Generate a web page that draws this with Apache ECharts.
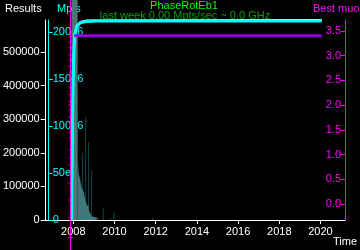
<!DOCTYPE html>
<html><head><meta charset="utf-8">
<script src="https://cdn.jsdelivr.net/npm/echarts@6/dist/echarts.min.js"></script>
<style>html,body{margin:0;padding:0;background:#000;}#c{width:360px;height:250px;}</style>
</head><body><div id="c"></div>
<script>
// ---- data ----
const xTickYears = [2008, 2010, 2012, 2014, 2016, 2018, 2020];
const resultsTicks = [0, 100000, 200000, 300000, 400000, 500000];
const mptsTicks = [0, 50e6, 100e6, 150e6, 200e6];
const rightTicks = [0, 0.5, 1.0, 1.5, 2.0, 2.5, 3.0, 3.5];

// tall first histogram bin (exceeds axis)
const bandX = [2007.92, 2008.21];
const bandV = [700000, 700000];

// results histogram (light fill), step bins
const histX = [2008.21, 2008.26, 2008.31, 2008.36, 2008.41, 2008.46, 2008.50, 2008.55, 2008.60, 2008.65, 2008.70, 2008.75, 2008.80, 2008.84, 2008.89, 2008.94, 2008.99, 2009.04, 2009.09, 2009.14, 2009.18, 2009.23];
const histV = [185000, 140000, 125000, 110000, 95000, 100000, 85000, 70000, 55000, 45000, 40000, 30000, 25000, 18000, 12000, 9000, 9000, 8000, 6000, 5000, 4000, 0];

// dark spikes
const spikeX = [2008.31, 2008.44, 2008.60, 2008.74, 2008.89, 2009.45, 2009.82, 2009.97, 2011.85];
const spikeV = [128000, 199000, 306000, 232000, 149000, 36600, 5000, 24700, 7000];

// cumulative results (white, left axis)
const whiteX = [2007.92, 2007.97, 2008.01, 2008.06, 2008.16, 2008.35, 2008.64, 2020.06];
const whiteV = [0, 297600, 476000, 550600, 577000, 589000, 593700, 595000];

// Mpts (cyan)
const cyanX = [2007.92, 2007.94, 2007.99, 2008.04, 2008.09, 2008.16, 2008.31, 2008.55, 2009.08, 2020.06];
const cyanV = [0, 74.5e6, 149e6, 186e6, 199e6, 205e6, 209.6e6, 211e6, 211.7e6, 211.7e6];

// best (purple, right axis)
const purpleX = [2008.05, 2020.06];
const purpleV = [3.40, 3.40];

// magenta vertical trace
const magLineX = [2007.87, 2007.87];
const magLineV = [-1.0, 4.3];

// best muon points (magenta, right axis)
const muonX = [2007.89, 2007.88, 2007.89, 2007.88, 2007.89, 2007.88, 2007.89, 2007.88, 2007.88, 2007.89, 2007.88, 2007.88, 2007.89, 2007.88, 2007.88, 2007.89, 2007.88, 2007.88, 2007.88, 2007.89, 2007.88, 2007.88, 2007.88, 2007.88, 2007.88, 2007.87];
const muonV = [3.38, 3.28, 3.16, 3.01, 2.91, 2.79, 2.67, 2.51, 2.35, 2.21, 2.07, 2.00, 1.90, 1.76, 1.64, 1.50, 1.44, 1.34, 1.09, 0.93, 0.79, 0.59, 0.42, 0.08, -0.28, -0.68];

const pairs = (xs, vs) => xs.map((x, i) => [x, vs[i]]);
const FONT = 'Liberation Sans';

const chart = echarts.init(document.getElementById('c'), null, {renderer: 'canvas'});
chart.setOption({
  backgroundColor: '#000',
  animation: false,
  grid: {left: 45, right: 15, top: 20, bottom: 30},
  xAxis: {
    type: 'value', min: 2006.66, max: 2021.19,
    axisLine: {show: true, lineStyle: {color: '#fff', width: 1}},
    axisTick: {show: true, customValues: xTickYears, length: 4, lineStyle: {color: '#fff'}},
    axisLabel: {customValues: xTickYears, color: '#fff', fontFamily: FONT, fontSize: 11, margin: 6, formatter: v => String(v)},
    splitLine: {show: false}
  },
  yAxis: [
    {
      type: 'value', position: 'left', min: 0, max: 595000,
      axisLine: {show: true, lineStyle: {color: '#fff'}},
      axisTick: {show: true, length: 5, customValues: resultsTicks, lineStyle: {color: '#fff'}},
      axisLabel: {customValues: resultsTicks, color: '#fff', fontFamily: FONT, fontSize: 11, margin: 6, formatter: v => String(v)},
      splitLine: {show: false}
    },
    {
      type: 'value', position: 'left', offset: -3, min: 0, max: 212.8e6,
      axisLine: {show: true, lineStyle: {color: '#00ffff'}},
      axisTick: {show: true, inside: true, length: 4, customValues: mptsTicks, lineStyle: {color: '#00ffff'}},
      axisLabel: {inside: true, customValues: mptsTicks, color: '#00ffff', fontFamily: FONT, fontSize: 11, margin: 4,
        formatter: v => v === 0 ? '0' : (v / 1e6) + 'e6'},
      splitLine: {show: false}
    },
    {
      type: 'value', position: 'right', min: -0.324, max: 3.72,
      axisLine: {show: true, lineStyle: {color: '#ff00ff'}},
      axisTick: {show: true, inside: true, length: 4, customValues: rightTicks, lineStyle: {color: '#ff00ff'}},
      axisLabel: {inside: true, customValues: rightTicks, color: '#ff00ff', fontFamily: FONT, fontSize: 11, margin: 4,
        formatter: v => Number(v).toFixed(1)},
      splitLine: {show: false}
    }
  ],
  series: [
    {type: 'line', yAxisIndex: 0, data: pairs(bandX, bandV), clip: false, symbol: 'none',
      lineStyle: {width: 0}, areaStyle: {color: '#4c7676', opacity: 1}},
    {type: 'line', yAxisIndex: 0, data: pairs(histX, histV), step: 'end', symbol: 'none',
      lineStyle: {width: 0}, areaStyle: {color: '#3e7878', opacity: 1}},
    {type: 'bar', yAxisIndex: 0, data: pairs(spikeX, spikeV), barWidth: 1, itemStyle: {color: '#0f4646'}},
    {type: 'line', yAxisIndex: 0, data: pairs(whiteX, whiteV), symbol: 'none', lineStyle: {color: '#fff', width: 2}},
    {type: 'line', yAxisIndex: 1, data: pairs(cyanX, cyanV), symbol: 'none', lineStyle: {color: '#00ffff', width: 3}},
    {type: 'line', yAxisIndex: 2, data: pairs(purpleX, purpleV), symbol: 'none', lineStyle: {color: '#9000e0', width: 3}},
    {type: 'line', yAxisIndex: 2, data: pairs(magLineX, magLineV), symbol: 'none', clip: false, lineStyle: {color: '#ff00ff', width: 1}},
    {type: 'scatter', yAxisIndex: 2, data: pairs(muonX, muonV), clip: false,
      symbol: 'path://M2,0H3V2H5V3H3V5H2V3H0V2H2Z', symbolSize: 5, itemStyle: {color: '#ff00ff'}}
  ],
  graphic: [
    {type: 'text', left: 5, top: 3, style: {text: 'Results', fill: '#fff', font: '11px "Liberation Sans"'}},
    {type: 'text', left: 57, top: 3, style: {text: 'Mpts', fill: '#00ffff', font: '11px "Liberation Sans"'}},
    {type: 'text', x: 184, y: 0, style: {text: 'PhaseRotEb1', fill: '#00ff00', font: '11px "Liberation Sans"', align: 'center', verticalAlign: 'top'}},
    {type: 'text', x: 185, y: 10, style: {text: 'last week 0.00 Mpts/sec ~ 0.0 GHz', fill: '#00a000', font: '11px "Liberation Sans"', align: 'center', verticalAlign: 'top'}},
    {type: 'text', x: 313, y: 3, style: {text: 'Best muon', fill: '#ff00ff', font: '11px "Liberation Sans"', verticalAlign: 'top'}},
    {type: 'text', x: 333, y: 236, style: {text: 'Time', fill: '#fff', font: '11px "Liberation Sans"', verticalAlign: 'top'}}
  ]
});
</script></body></html>
